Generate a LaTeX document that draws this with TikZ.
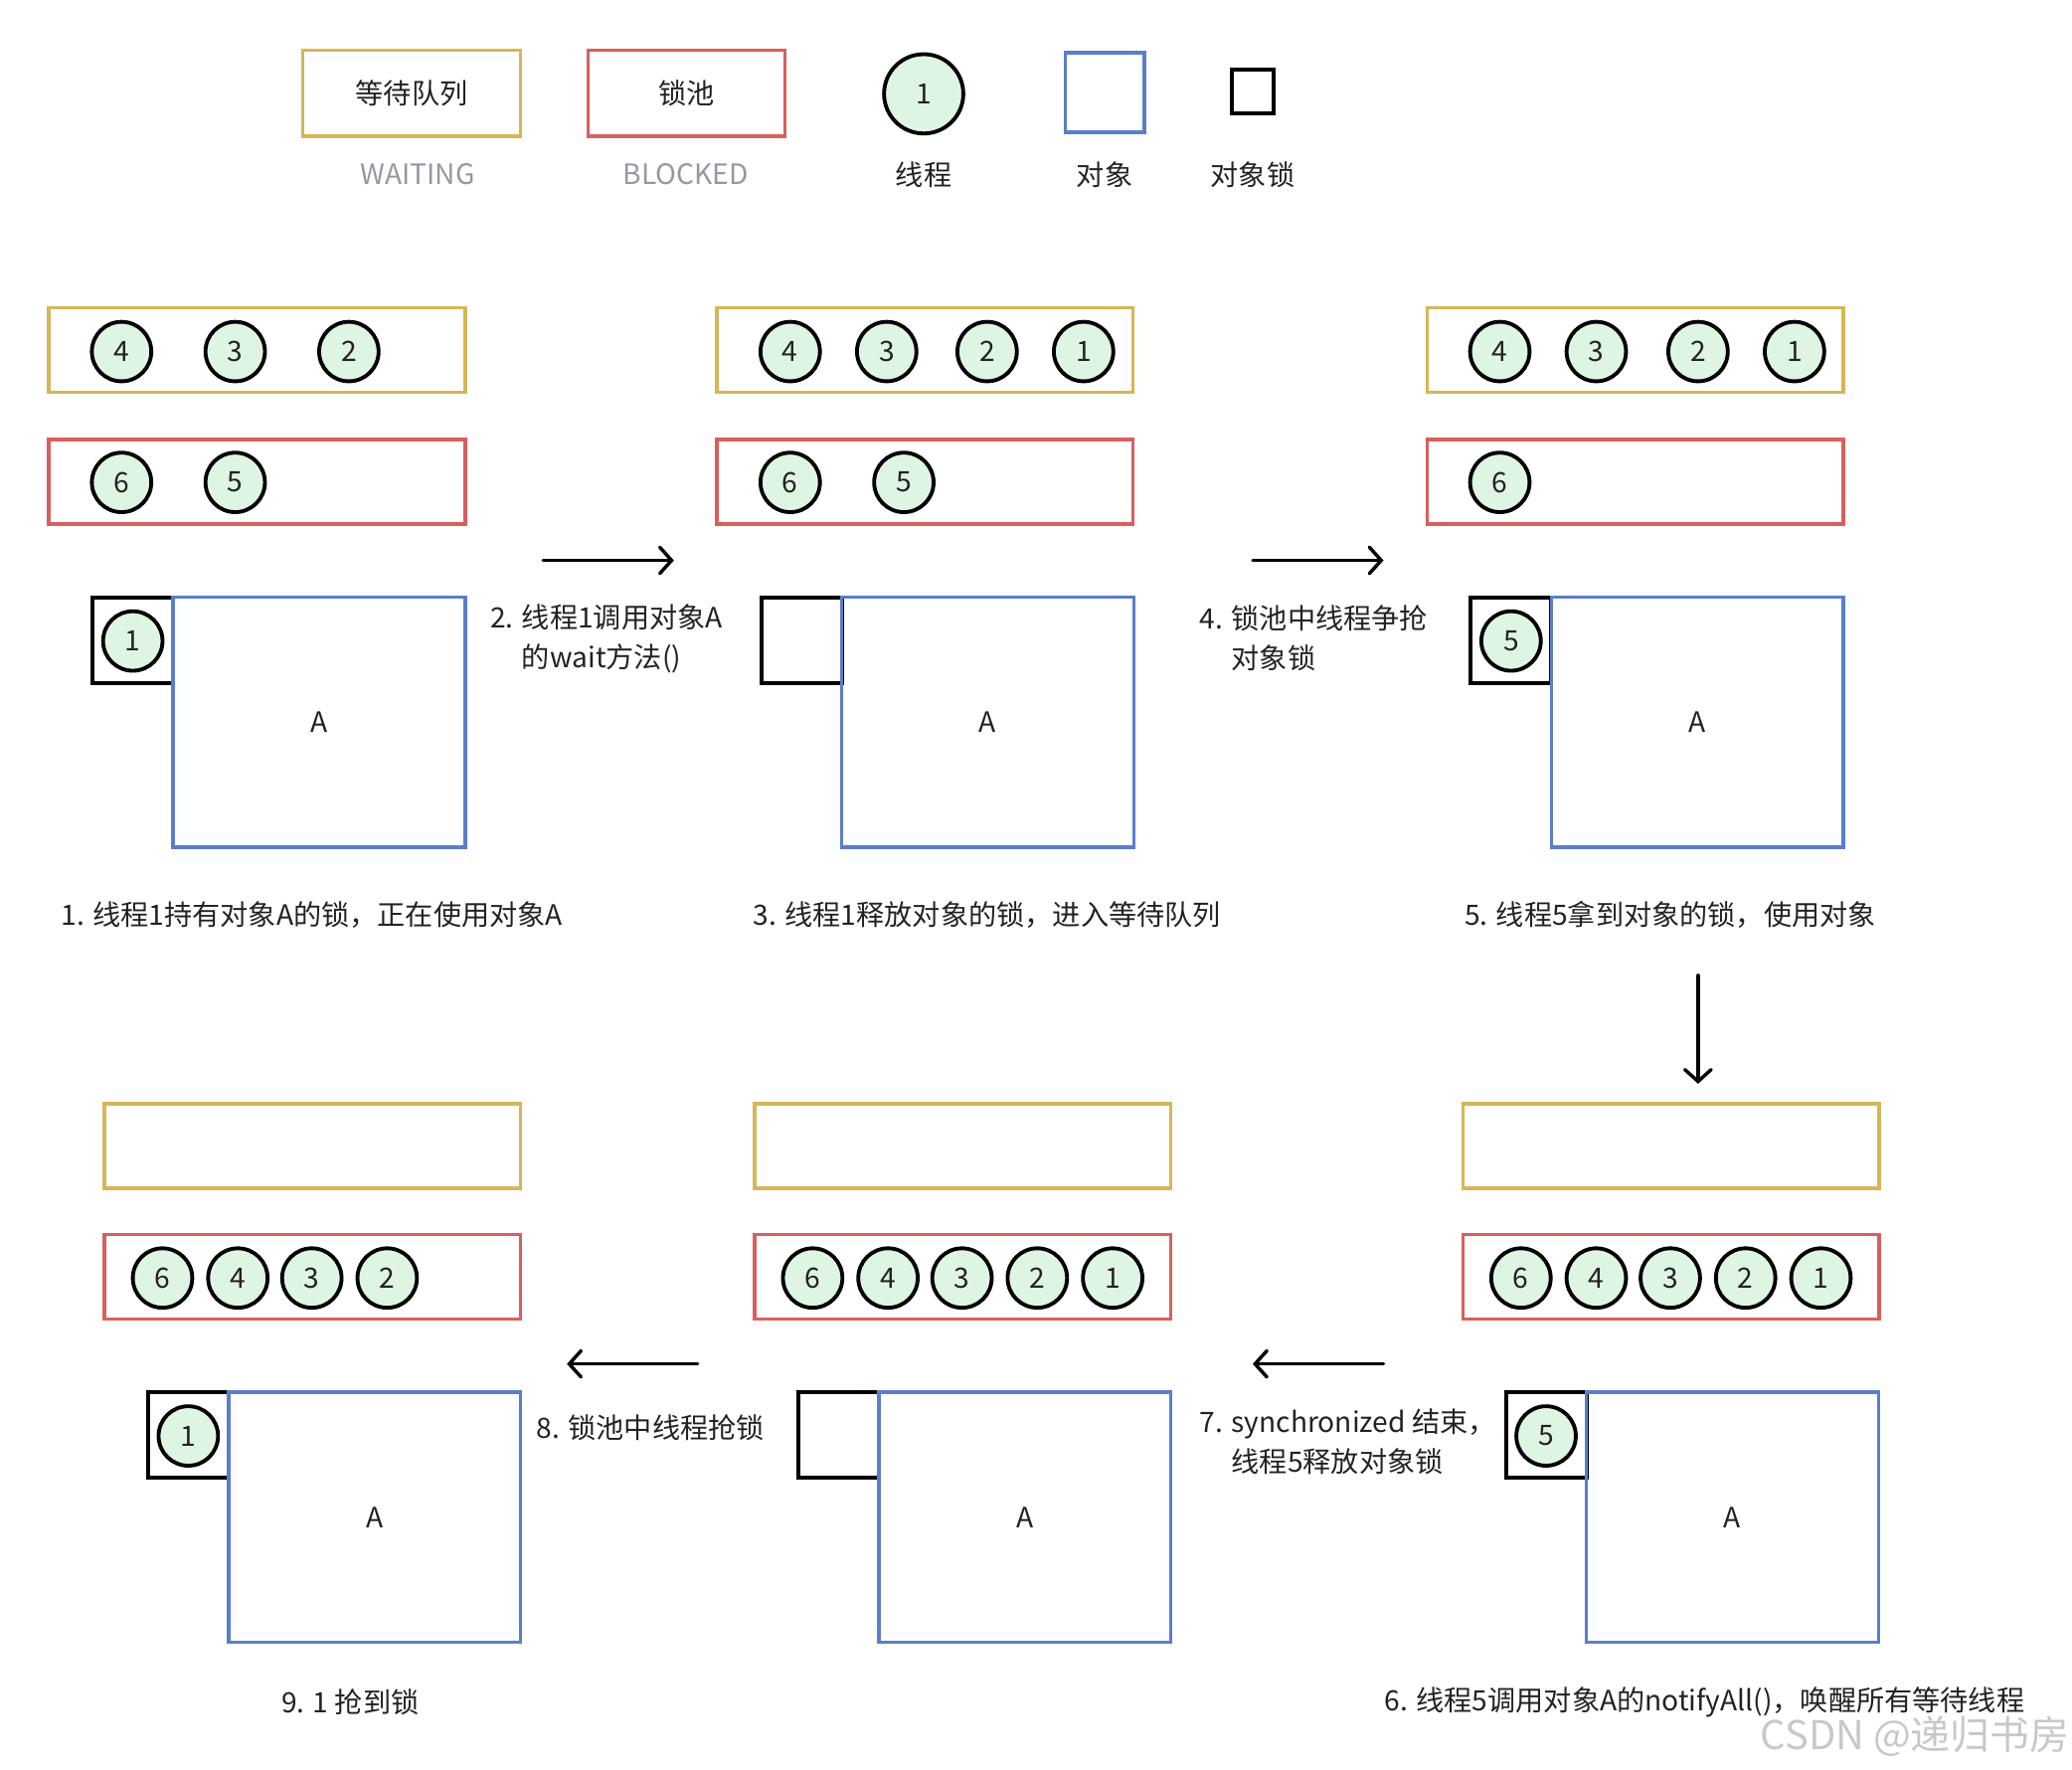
\documentclass[tikz,border=0pt]{standalone}
\usepackage{fontspec}
\setmainfont{Noto Sans CJK SC}
\usetikzlibrary{arrows.meta}
\definecolor{wq}{HTML}{D6B656}
\definecolor{bp}{HTML}{D95F5D}
\definecolor{ob}{HTML}{5A7ECB}
\definecolor{th}{HTML}{DFF5E3}
\definecolor{tx}{HTML}{222222}
\definecolor{lg}{HTML}{9399A3}
\definecolor{wm}{HTML}{C8C8C8}
\newcommand{\objA}{\raisebox{-1pt}{A}}
\begin{document}
\begin{tikzpicture}[x=0.5pt,y=-0.5pt,
  every node/.style={font=\fontsize{10.6}{15}\selectfont, text=tx, inner sep=0pt, outer sep=0pt},
  qbox/.style={draw=wq, line width=1.3pt, minimum width=157.5pt, minimum height=32pt},
  pbox/.style={draw=bp, line width=1.3pt, minimum width=157.5pt, minimum height=32pt},
  objbox/.style={draw=ob, line width=1.3pt, minimum width=110.5pt, minimum height=94.5pt},
  lockbox/.style={draw=black, line width=1.5pt, minimum width=30.5pt, minimum height=32.5pt},
  thread/.style={circle, draw=black, fill=th, line width=1.45pt, minimum size=22.5pt},
  flow/.style={line width=1.3pt, line cap=round, -{Straight Barb[length=4.5pt,width=10pt,line cap=round]}},
  legtext/.style={text=lg},
  captext/.style={anchor=center},
  steptext/.style={anchor=west, align=left}
]
\useasboundingbox (0,0) rectangle (1568,1339);

% ---------------- legend ----------------
\node[draw=wq, line width=1.3pt, minimum width=82.5pt, minimum height=32.5pt] (lgq) at (311.5,70.5) {等待队列};
\node[draw=bp, line width=1.3pt, minimum width=74.5pt, minimum height=32.5pt] (lgp) at (519.5,70.5) {锁池};
\node[thread, minimum size=30pt] (lgt) at (699,71) {1};
\node[draw=ob, line width=1.3pt, minimum width=30pt, minimum height=30pt] (lgo) at (836,70) {};
\node[draw=black, line width=1.5pt, minimum width=16pt, minimum height=16.5pt] (lgl) at (948,69.5) {};
\node[legtext] (lgqt) at (316,132) {WAITING};
\node[legtext] (lgpt) at (519,132) {BLOCKED};
\node (lgtt) at (699,132) {线程};
\node (lgot) at (836,132) {对象};
\node (lglt) at (948,132) {对象锁};

% ---------------- panel 1 ----------------
\node[qbox] (q1) at (194.5,265) {};
\node[pbox] (p1) at (194.5,364.5) {};
\node[lockbox] (k1) at (100.5,484.5) {};
\node[objbox] (o1) at (241.5,546.5) {\objA};
\node[thread] (q1t4) at (92,266) {4};
\node[thread] (q1t3) at (178,266) {3};
\node[thread] (q1t2) at (264,266) {2};
\node[thread] (p1t6) at (92,365) {6};
\node[thread] (p1t5) at (178,365) {5};
\node[thread] (k1t1) at (100.5,485) {1};
\node[captext] (c1) at (236,692) {1. 线程1持有对象A的锁，正在使用对象A};

% arrow 2
\coordinate (a2s) at (411,424);
\coordinate (a2e) at (510,424);
\draw[flow] (a2s) -- (a2e);
\node[steptext] (s2) at (371,483) {2. 线程1调用对象A\\\hphantom{2. }的wait方法()};

% ---------------- panel 3 ----------------
\node[qbox] (q3) at (700,265) {};
\node[pbox] (p3) at (700,364.5) {};
\node[lockbox] (k3) at (606.5,484.5) {};
\node[objbox] (o3) at (747.5,546.5) {\objA};
\node[thread] (q3t4) at (598,266) {4};
\node[thread] (q3t3) at (671,266) {3};
\node[thread] (q3t2) at (747,266) {2};
\node[thread] (q3t1) at (820,266) {1};
\node[thread] (p3t6) at (598,365) {6};
\node[thread] (p3t5) at (684,365) {5};
\node[captext] (c3) at (747,692) {3. 线程1释放对象的锁，进入等待队列};

% arrow 4
\coordinate (a4s) at (948,424);
\coordinate (a4e) at (1047,424);
\draw[flow] (a4s) -- (a4e);
\node[steptext] (s4) at (908,483) {4. 锁池中线程争抢\\\hphantom{4. }对象锁};

% ---------------- panel 5 ----------------
\node[qbox] (q5) at (1237.5,265) {};
\node[pbox] (p5) at (1237.5,364.5) {};
\node[lockbox] (k5) at (1143.5,484.5) {};
\node[objbox] (o5) at (1284.5,546.5) {\objA};
\node[thread] (q5t4) at (1135,266) {4};
\node[thread] (q5t3) at (1208,266) {3};
\node[thread] (q5t2) at (1285,266) {2};
\node[thread] (q5t1) at (1358,266) {1};
\node[thread] (p5t6) at (1135,365) {6};
\node[thread] (k5t5) at (1143.5,485) {5};
\node[captext] (c5) at (1264,692) {5. 线程5拿到对象的锁，使用对象};

% down arrow
\coordinate (a6s) at (1285,738);
\coordinate (a6e) at (1285,820);
\draw[flow] (a6s) -- (a6e);

% ---------------- panel 6 ----------------
\node[qbox] (q6) at (1264.5,867) {};
\node[pbox] (p6) at (1264.5,966) {};
\node[lockbox] (k6) at (1170,1085.5) {};
\node[objbox] (o6) at (1311,1148) {\objA};
\node[thread] (p6t6) at (1151,967) {6};
\node[thread] (p6t4) at (1208,967) {4};
\node[thread] (p6t3) at (1264,967) {3};
\node[thread] (p6t2) at (1321,967) {2};
\node[thread] (p6t1) at (1378,967) {1};
\node[thread] (k6t5) at (1170,1086.5) {5};
\node[captext] (c6) at (1290,1288) {6. 线程5调用对象A的notifyAll()，唤醒所有等待线程};

% arrow 7
\coordinate (a7s) at (1047,1032);
\coordinate (a7e) at (948,1032);
\draw[flow] (a7s) -- (a7e);
\node[steptext] (s7) at (908,1091) {7. synchronized 结束，\\\hphantom{7. }线程5释放对象锁};

% ---------------- panel 7 ----------------
\node[qbox] (q7) at (728.5,867) {};
\node[pbox] (p7) at (728.5,966) {};
\node[lockbox] (k7) at (634.5,1085.5) {};
\node[objbox] (o7) at (775.5,1148) {\objA};
\node[thread] (p7t6) at (615,967) {6};
\node[thread] (p7t4) at (672,967) {4};
\node[thread] (p7t3) at (728,967) {3};
\node[thread] (p7t2) at (785,967) {2};
\node[thread] (p7t1) at (842,967) {1};

% arrow 8
\coordinate (a8s) at (528,1032);
\coordinate (a8e) at (429,1032);
\draw[flow] (a8s) -- (a8e);
\node[steptext] (s8) at (406,1080) {8. 锁池中线程抢锁};

% ---------------- panel 9 ----------------
\node[qbox] (q9) at (236.5,867) {};
\node[pbox] (p9) at (236.5,966) {};
\node[lockbox] (k9) at (142.5,1085.5) {};
\node[objbox] (o9) at (283.5,1148) {\objA};
\node[thread] (p9t6) at (123,967) {6};
\node[thread] (p9t4) at (180,967) {4};
\node[thread] (p9t3) at (236,967) {3};
\node[thread] (p9t2) at (293,967) {2};
\node[thread] (k9t1) at (142.5,1086.5) {1};
\node[captext] (c9) at (265,1288) {9. 1 抢到锁};

% watermark
\node[text=wm, font=\fontsize{15}{15}\selectfont, anchor=east] (wmk) at (1566,1314) {CSDN @递归书房};
\end{tikzpicture}
\end{document}
